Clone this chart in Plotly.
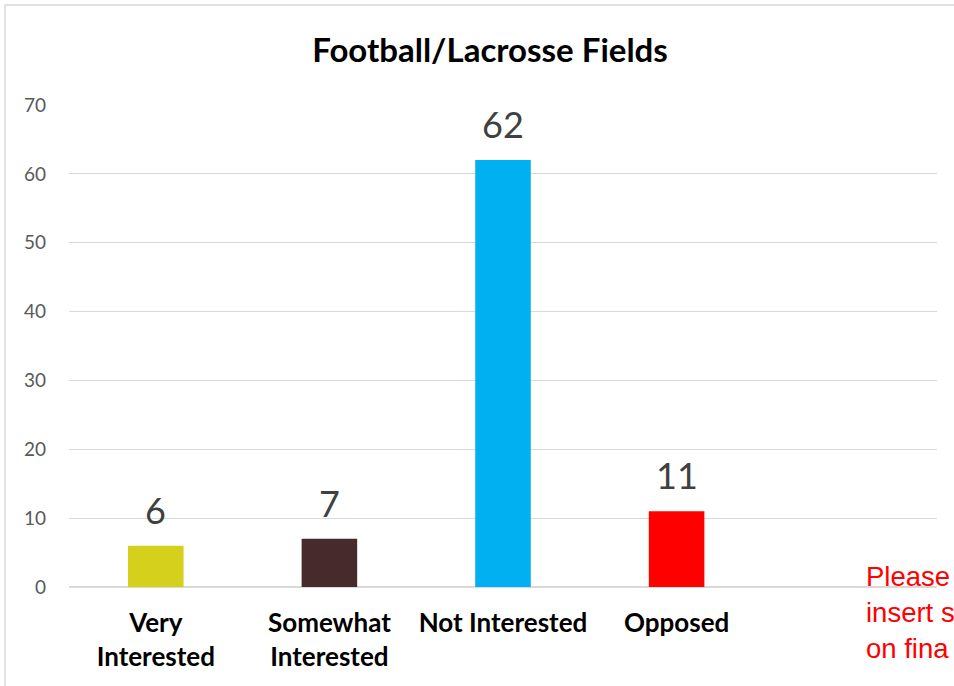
import plotly.graph_objects as go

categories = ["Very<br>Interested", "Somewhat<br>Interested", "Not Interested", "Opposed", ""]
values = [6, 7, 62, 11, None]
colors = ["#D5D01B", "#472A2B", "#00B0F0", "#FF0000", "#FFFFFF"]
y_ticks = [0, 10, 20, 30, 40, 50, 60, 70]
title_text = "Football/Lacrosse Fields"
note_text = "Please<br>insert s<br>on fina"

FONT = "Lato, 'Open Sans', sans-serif"
xs = list(range(len(categories)))

fig = go.Figure()
fig.add_trace(go.Bar(
    x=xs, y=values, marker=dict(color=colors, line=dict(width=0)),
    width=0.32, hoverinfo="skip", showlegend=False,
))

for x, v in zip(xs, values):
    if v is None:
        continue
    fig.add_annotation(x=x, y=v, text=str(v), showarrow=False, yanchor="bottom",
                       yshift=12, font=dict(family=FONT, size=36, color="#404040"))

# note text (cut off at right edge)
fig.add_annotation(xref="paper", yref="paper", x=(864 - 69) / 868, y=(587 - 559) / 482,
                   xanchor="left", yanchor="top", align="left", showarrow=False,
                   text=note_text,
                   font=dict(family="Liberation Sans, Arial, sans-serif", size=27.5, color="#FF0000"))

# chart border
fig.add_shape(type="rect", xref="paper", yref="paper",
              x0=(5 - 69) / 868, x1=1.2, y0=-0.5, y1=(587 - 5) / 482,
              line=dict(color="#D9D9D9", width=1.5), fillcolor="rgba(0,0,0,0)", layer="below")

fig.update_layout(
    width=954, height=686,
    margin=dict(l=69, r=17, t=105, b=99),
    paper_bgcolor="white", plot_bgcolor="white",
    title=dict(text="<b>" + title_text + "</b>", x=490 / 954, xref="container", xanchor="center",
               y=1 - 50 / 686, yref="container", yanchor="middle",
               font=dict(family=FONT, size=33, color="#000000")),
    xaxis=dict(
        range=[-0.5, 4.5], tickmode="array", tickvals=xs[:4],
        ticktext=["<b>" + c + "</b>" for c in categories[:4]],
        showgrid=False, zeroline=False, showline=False, ticks="",
        tickfont=dict(family=FONT, size=26, color="#000000"),
        ticklabelstandoff=18,
    ),
    yaxis=dict(
        range=[0, 70], tickmode="array", tickvals=y_ticks,
        showgrid=True, gridcolor="#D9D9D9", gridwidth=1.3,
        zeroline=True, zerolinecolor="#D9D9D9", zerolinewidth=1.5,
        showline=False, ticks="",
        tickfont=dict(family=FONT, size=19, color="#595959"),
        ticklabelstandoff=22,
    ),
)

fig.write_html("out.html", config={"displayModeBar": False},
               post_script="document.body.style.margin='0px';document.body.style.overflow='hidden';")
